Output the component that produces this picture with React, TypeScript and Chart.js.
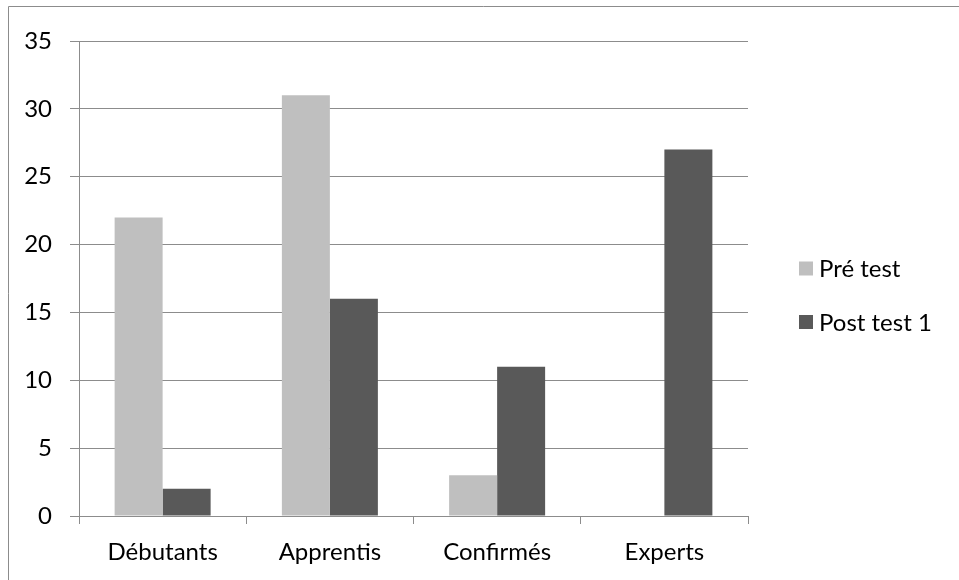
import React, { useEffect, useRef } from "react";
import { Chart, registerables } from "chart.js";

Chart.register(...registerables);

const categories = ["Débutants", "Apprentis", "Confirmés", "Experts"];
const preTest = [22, 31, 3, 0];
const postTest1 = [2, 16, 11, 27];
const seriesLabels = ["Pré test", "Post test 1"];
const seriesColors = ["#BFBFBF", "#595959"];

const FONT = "Lato, 'Open Sans', sans-serif";
const GRID = "#8C8C8C";
const TEXT = "#000000";

const framePlugin = {
  id: "frame",
  beforeDraw(chart: any) {
    const ctx = chart.ctx;
    ctx.save();
    ctx.strokeStyle = GRID;
    ctx.lineWidth = 1;
    ctx.beginPath();
    ctx.moveTo(8.5, chart.height);
    ctx.lineTo(8.5, 6.5);
    ctx.lineTo(chart.width, 6.5);
    ctx.stroke();
    ctx.restore();
  },
};

const legendPlugin = {
  id: "customLegend",
  afterDraw(chart: any) {
    const ctx = chart.ctx;
    ctx.save();
    ctx.font = `24px ${FONT}`;
    ctx.textBaseline = "middle";
    ctx.textAlign = "left";
    chart.data.datasets.forEach((ds: any, i: number) => {
      const cy = 268.5 + i * 53.5;
      ctx.fillStyle = ds.backgroundColor;
      ctx.fillRect(799, cy - 7, 14, 14);
      ctx.fillStyle = TEXT;
      ctx.fillText(ds.label, 819, cy + 1);
    });
    ctx.restore();
  },
};

export default function App() {
  const canvasRef = useRef<HTMLCanvasElement | null>(null);

  useEffect(() => {
    if (!canvasRef.current) return;
    const chart = new Chart(canvasRef.current, {
      type: "bar",
      data: {
        labels: categories,
        datasets: [
          { label: seriesLabels[0], data: preTest, backgroundColor: seriesColors[0] },
          { label: seriesLabels[1], data: postTest1, backgroundColor: seriesColors[1] },
        ],
      },
      options: {
        responsive: false,
        animation: false,
        devicePixelRatio: 1,
        layout: { padding: { top: 41, right: 211, left: 0, bottom: 0 } },
        datasets: { bar: { barPercentage: 1, categoryPercentage: 0.574 } },
        plugins: {
          legend: { display: false },
          tooltip: { enabled: false },
        },
        scales: {
          x: {
            afterFit: (s: any) => { s.height = 64; },
            grid: {
              display: true,
              drawOnChartArea: false,
              drawTicks: true,
              tickLength: 8,
              color: GRID,
              offset: true,
            },
            border: { display: true, color: GRID },
            ticks: {
              color: TEXT,
              padding: 14,
              font: { family: FONT, size: 24 },
            },
          },
          y: {
            min: 0,
            max: 35,
            afterFit: (s: any) => { s.width = 79; },
            ticks: {
              stepSize: 5,
              color: TEXT,
              padding: 18,
              font: { family: FONT, size: 24 },
            },
            grid: { color: GRID, tickLength: 9, drawTicks: true },
            border: { display: true, color: GRID },
          },
        },
      },
      plugins: [framePlugin, legendPlugin],
    });
    return () => chart.destroy();
  }, []);

  return (
    <div style={{ position: "fixed", left: 0, top: 0, width: 959, height: 580, background: "#fff" }}>
      <canvas ref={canvasRef} width={959} height={580} style={{ width: 959, height: 580, display: "block" }} />
    </div>
  );
}
